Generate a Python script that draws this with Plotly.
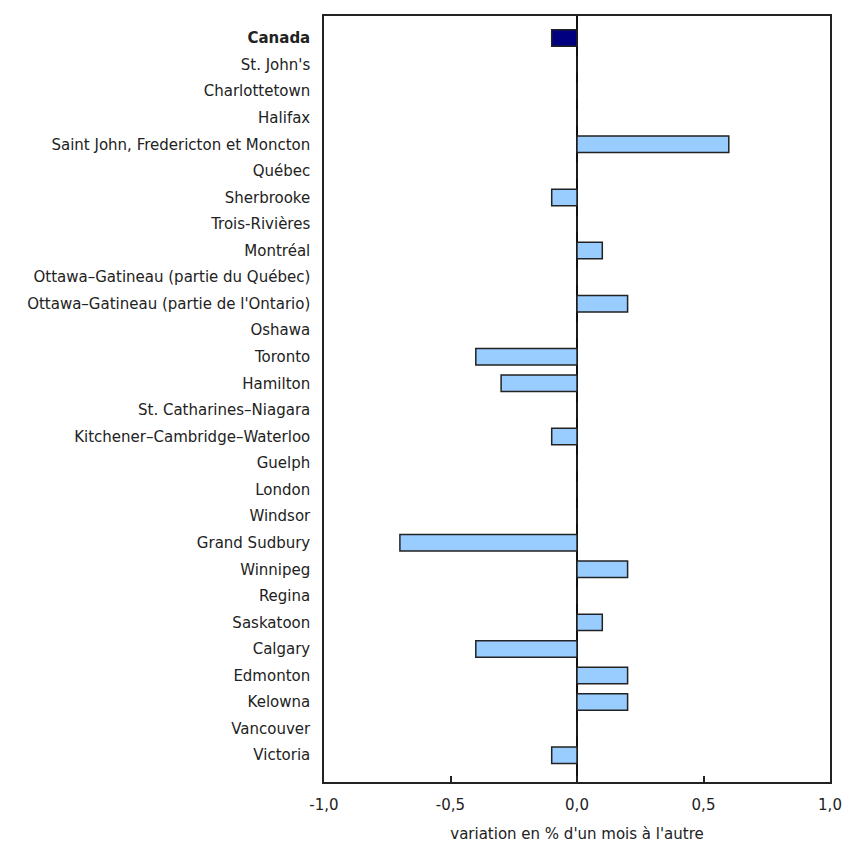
import plotly.graph_objects as go

categories = [
    "Canada", "St. John's", "Charlottetown", "Halifax",
    "Saint John, Fredericton et Moncton", "Québec", "Sherbrooke",
    "Trois-Rivières", "Montréal", "Ottawa–Gatineau (partie du Québec)",
    "Ottawa–Gatineau (partie de l'Ontario)", "Oshawa", "Toronto", "Hamilton",
    "St. Catharines–Niagara", "Kitchener–Cambridge–Waterloo", "Guelph",
    "London", "Windsor", "Grand Sudbury", "Winnipeg", "Regina", "Saskatoon",
    "Calgary", "Edmonton", "Kelowna", "Vancouver", "Victoria",
]
values = [
    -0.1, 0.0, 0.0, 0.0, 0.6, 0.0, -0.1, 0.0, 0.1, 0.0, 0.2, 0.0, -0.4, -0.3,
    0.0, -0.1, 0.0, 0.0, 0.0, -0.7, 0.2, 0.0, 0.1, -0.4, 0.2, 0.2, 0.0, -0.1,
]
x_tickvals = [-1.0, -0.5, 0.0, 0.5, 1.0]
x_ticktext = ["-1,0", "-0,5", "0,0", "0,5", "1,0"]
x_title = "variation en % d'un mois à l'autre"

colors = ["#000080" if c == "Canada" else "#99CCFF" for c in categories]
y_text = ["<b>" + c + "</b>" if c == "Canada" else c for c in categories]
idx = list(range(len(categories)))

fig = go.Figure()
fig.add_trace(go.Bar(
    x=values, y=idx, orientation="h",
    marker=dict(color=colors, line=dict(color="#222222", width=1.5)),
    width=0.62, hoverinfo="x+y",
))

fig.update_layout(
    width=866, height=846,
    margin=dict(l=316, r=44, t=6, b=72),
    paper_bgcolor="white", plot_bgcolor="white",
    font=dict(family="DejaVu Sans", size=15, color="#222222"),
    showlegend=False,
    xaxis=dict(
        range=[-1, 1], tickvals=x_tickvals, ticktext=x_ticktext,
        ticks="inside", ticklen=6, tickwidth=1.5, tickcolor="#222222",
        showgrid=False, zeroline=True, zerolinecolor="#111111", zerolinewidth=1.5,
        showline=True, linecolor="#222222", linewidth=1.5, mirror=True,
        title=dict(text=x_title, standoff=16, font=dict(size=15)),
        tickfont=dict(size=15), ticklabelstandoff=8,
    ),
    yaxis=dict(
        range=[28.01, -0.83], tickvals=idx, ticktext=y_text,
        showgrid=False, zeroline=False, ticks="",
        showline=True, linecolor="#222222", linewidth=1.5, mirror=True,
        tickfont=dict(size=15), ticklabelstandoff=9,
    ),
)

fig.write_html("out.html")
